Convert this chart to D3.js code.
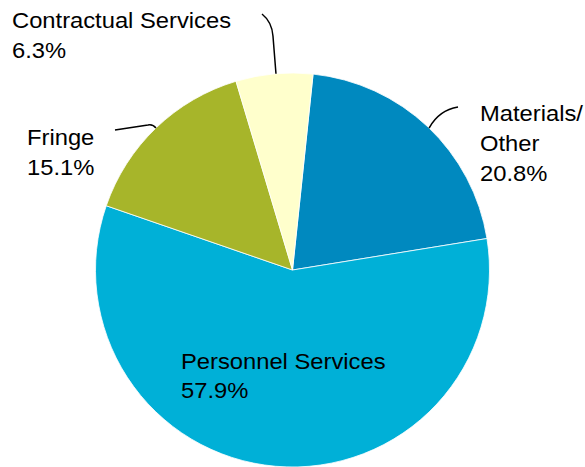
<!DOCTYPE html>
<html><head><meta charset="utf-8">
<script src="https://cdn.jsdelivr.net/npm/d3@7"></script>
<style>body{margin:0;background:#fff}svg{display:block}text{font-family:"Liberation Sans",Arial,sans-serif;font-size:22px;fill:#000}</style>
</head><body><svg id="c" width="585" height="467"></svg>
<script>
const categories = ["Materials/ Other", "Personnel Services", "Fringe", "Contractual Services"];
const values = [20.8, 57.9, 15.1, 6.3];
const colors = ["#0089BF", "#00B0D7", "#A7B52A", "#FFFFCC"];
const labelLines = [["Materials/", "Other", "20.8%"], ["Personnel Services", "57.9%"], ["Fringe", "15.1%"], ["Contractual Services", "6.3%"]];

const svg = d3.select("#c");
const cx = 292.5, cy = 270, r = 197;
const startA = 6 * Math.PI / 180;
const pie = d3.pie().sort(null).value(d => d).startAngle(startA).endAngle(startA + 2 * Math.PI);
const arcs = pie(values);
const arc = d3.arc().innerRadius(0).outerRadius(r);
const g = svg.append("g").attr("transform", `translate(${cx},${cy})`);
g.selectAll("path").data(arcs).join("path")
  .attr("d", arc).attr("fill", (d, i) => colors[i])
  .attr("stroke", "#fff").attr("stroke-width", 0.8);

// leader lines
function pt(a, rr) { return [cx + rr * Math.sin(a), cy - rr * Math.cos(a)]; }
const leaders = [
  { a: 0.766, path: (p) => `M${p[0]},${p[1]} Q${p[0]+10},${p[1]-18} 458,107` },
  { a: -0.766, path: (p) => `M${p[0]},${p[1]} Q${p[0]-3},${p[1]-4} ${p[0]-8},${p[1]-3} L115,130` },
  { a: -0.084, path: (p) => `M${p[0]},${p[1]} L${p[0]-3},36 Q${p[0]-4},22 262,14` }
];
leaders.forEach(l => {
  const p = pt(l.a, r);
  svg.append("path").attr("d", l.path(p)).attr("fill", "none").attr("stroke", "#000").attr("stroke-width", 1.5);
});

// labels
const sx = 1.08;
const labelPos = [[480, 121, 30], [181, 369, 29], [27, 145, 30], [12, 28, 30]];
labelLines.forEach((lines, i) => {
  const [x, y, lh] = labelPos[i];
  const t = svg.append("text").attr("transform", `translate(${x},${y}) scale(${sx},1)`);
  lines.forEach((s, j) => t.append("tspan").attr("x", 0).attr("dy", j ? lh : 0).text(s));
});
</script></body></html>
